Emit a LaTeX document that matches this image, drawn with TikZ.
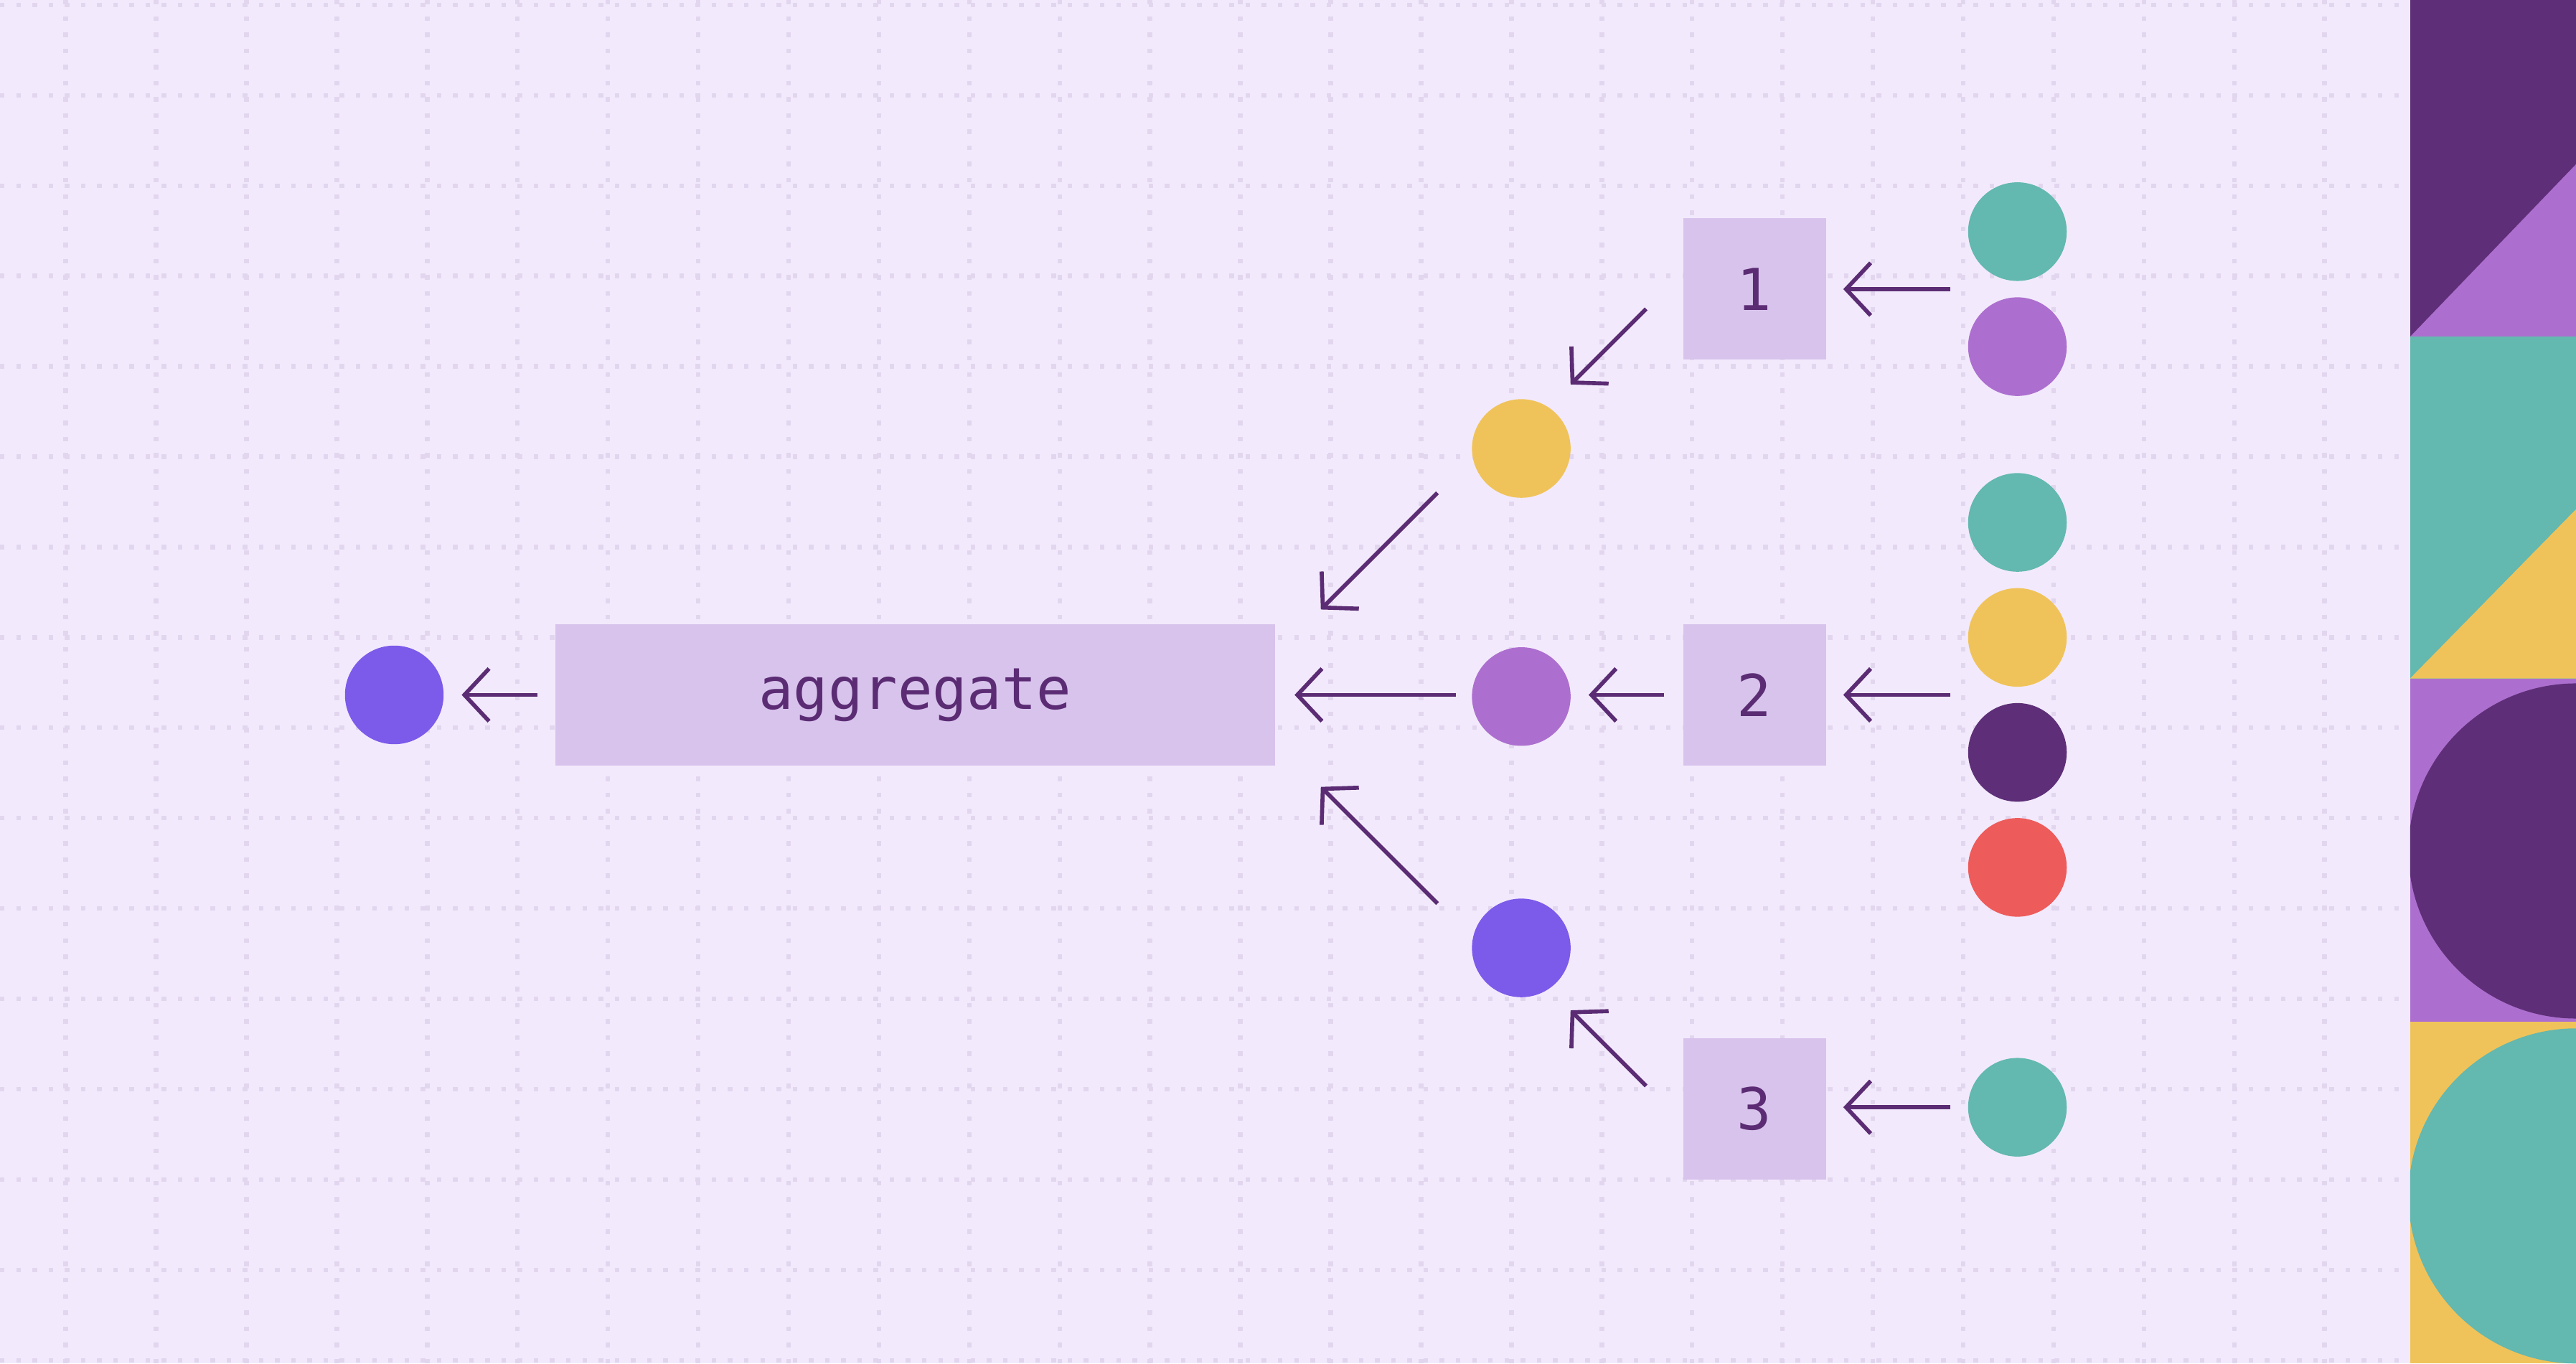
\documentclass[tikz,border=0pt]{standalone}
\usepackage{fontspec}
\setmonofont{DejaVu Sans Mono}
\usetikzlibrary{arrows.meta}
\definecolor{bg}{HTML}{F2EAFC}
\definecolor{gridc}{HTML}{E2D6EF}
\definecolor{boxc}{HTML}{D8C3EC}
\definecolor{ink}{HTML}{5B2C74}
\definecolor{teal}{HTML}{63B8AF}
\definecolor{lpur}{HTML}{AD6FCF}
\definecolor{dpur}{HTML}{5E2F78}
\definecolor{yel}{HTML}{F0C35A}
\definecolor{redc}{HTML}{EE5B5B}
\definecolor{vio}{HTML}{7C5AEA}
\tikzset{
  boxn/.style={fill=boxc,draw=none,inner sep=0pt,text=ink,font=\fontsize{10}{10}\selectfont\ttfamily},
  dot/.style={circle,draw=none,minimum size=0.6cm,inner sep=0pt},
  arr/.style={draw=ink,line width=0.7pt,-{Straight Barb[length=0.15cm,width=0.32cm,line width=0.7pt]}},
}
\begin{document}
\begin{tikzpicture}[x=0.01cm,y=-0.01cm]
\fill[bg] (0,0) rectangle (1568,830);
\useasboundingbox (0,0) rectangle (1568,830);
\foreach \x in {40,95,...,1467} \draw[gridc,dotted,line width=0.8pt] (\x,0) -- (\x,830);
\foreach \y in {3,58,...,830} \draw[gridc,dotted,line width=0.8pt] (0,\y) -- (1467,\y);
% right strip
\fill[dpur] (1467,0) rectangle (1568,205);
\fill[lpur] (1467,205) -- (1568,100) -- (1568,205) -- cycle;
\fill[teal] (1467,205) rectangle (1568,413);
\fill[yel] (1467,413) -- (1568,310) -- (1568,413) -- cycle;
\fill[lpur] (1467,413) rectangle (1568,622);
\begin{scope}
\clip (1467,413) rectangle (1568,622);
\fill[dpur] (1568,518) circle (102);
\end{scope}
\fill[yel] (1467,622) rectangle (1568,830);
\begin{scope}
\clip (1467,622) rectangle (1568,830);
\fill[teal] (1568,728) circle (102);
\end{scope}
% boxes
\node[boxn,minimum width=0.87cm,minimum height=0.86cm] (b1) at (1068,176) {1};
\node[boxn,minimum width=0.87cm,minimum height=0.86cm] (b2) at (1068,423) {2};
\node[boxn,minimum width=0.87cm,minimum height=0.86cm] (b3) at (1068,675) {3};
\node[boxn,minimum width=4.38cm,minimum height=0.86cm] (agg) at (557,423) {aggregate};
% circles
\node[dot,fill=teal] (r1) at (1228,141) {};
\node[dot,fill=lpur] (r2) at (1228,211) {};
\node[dot,fill=teal] (r3) at (1228,318) {};
\node[dot,fill=yel] (r4) at (1228,388) {};
\node[dot,fill=dpur] (r5) at (1228,458) {};
\node[dot,fill=redc] (r6) at (1228,528) {};
\node[dot,fill=teal] (r7) at (1228,674) {};
\node[dot,fill=yel] (m1) at (926,273) {};
\node[dot,fill=lpur] (m2) at (926,424) {};
\node[dot,fill=vio] (m3) at (926,577) {};
\node[dot,fill=vio] (out) at (240,423) {};
% arrow ends
\coordinate (s1) at (1187,176); \coordinate (e1) at (1122,176);
\coordinate (s2) at (1187,423); \coordinate (e2) at (1122,423);
\coordinate (s3) at (1187,674); \coordinate (e3) at (1122,674);
\coordinate (s4) at (1002,188); \coordinate (e4) at (956,234);
\coordinate (s5) at (1013,423); \coordinate (e5) at (967,423);
\coordinate (s6) at (1002,661); \coordinate (e6) at (956,615);
\coordinate (s7) at (875,300); \coordinate (e7) at (804,371);
\coordinate (s8) at (886,423); \coordinate (e8) at (788,423);
\coordinate (s9) at (875,550); \coordinate (e9) at (804,479);
\coordinate (s10) at (327,423); \coordinate (e10) at (281,423);
\foreach \i in {1,...,10} \draw[arr] (s\i) -- (e\i);
\end{tikzpicture}
\end{document}
